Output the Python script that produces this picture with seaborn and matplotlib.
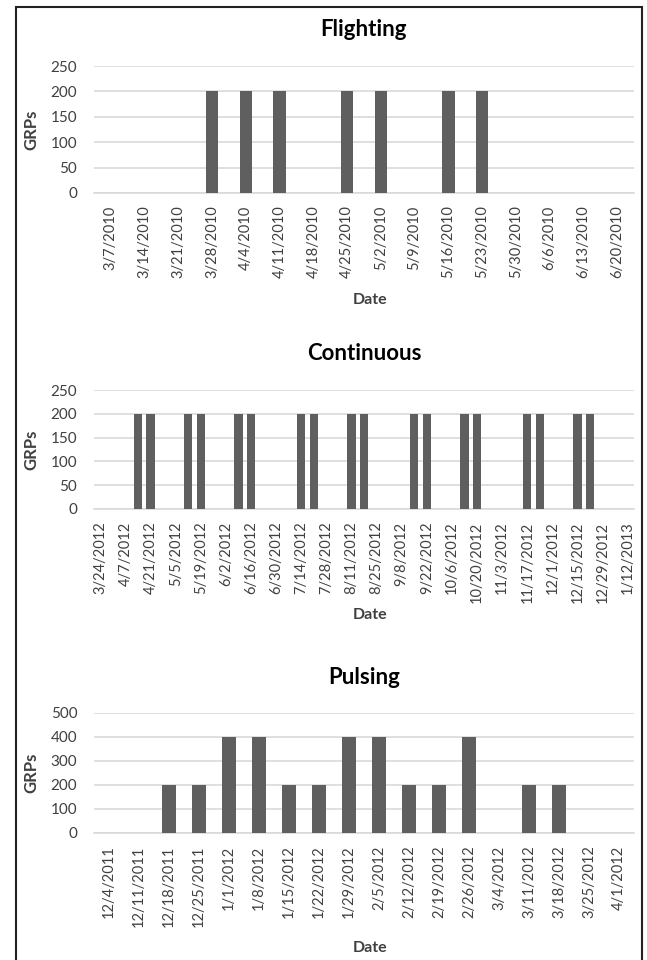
import pandas as pd
import matplotlib.pyplot as plt
import seaborn as sns
from matplotlib.patches import Rectangle

# 데이터
flight_dates = pd.date_range('2010-03-07', periods=16, freq='7D')
flight_grps = [0, 0, 0, 200, 200, 200, 0, 200, 200, 0, 200, 200, 0, 0, 0, 0]

cont_dates = pd.date_range('2012-03-24', periods=43, freq='7D')
cont_grps = [0, 0, 0, 200, 200, 0, 0, 200, 200, 0, 0, 200, 200, 0, 0,
             0, 200, 200, 0, 0, 200, 200, 0, 0, 0, 200, 200, 0, 0, 200,
             200, 0, 0, 0, 200, 200, 0, 0, 200, 200, 0, 0, 0]

pulse_dates = pd.date_range('2011-12-04', periods=18, freq='7D')
pulse_grps = [0, 0, 200, 200, 400, 400, 200, 200, 400, 400, 200, 200, 400, 0, 200, 200, 0, 0]

def fmt(d):
    return f"{d.month}/{d.day}/{d.year}"

sns.set_style('white')
plt.rcParams['font.family'] = ['Lato', 'DejaVu Sans']

W, H = 647, 960
fig = plt.figure(figsize=(W / 100, H / 100), dpi=100)

BAR = '#5f5f5f'
GRID = '#d9d9d9'
TXT = '#404040'

# (제목, 날짜, 값, 막대폭, 라벨 간격, y최대, y간격, 축 위/아래 px, 제목 y, Date y)
panels = [
    ('Flighting', flight_dates, flight_grps, 0.37, 1, 250, 50, 66, 193, 30, 300),
    ('Continuous', cont_dates, cont_grps, 0.66, 2, 250, 50, 390, 509, 353, 615),
    ('Pulsing', pulse_dates, pulse_grps, 0.44, 1, 500, 100, 713, 833, 677, 948),
]

left_px, right_px = 94, 634
for title, dates, vals, bw, step, ymax, ystep, top_px, bot_px, ty, dy in panels:
    ax = fig.add_axes([left_px / W, 1 - bot_px / H, (right_px - left_px) / W, (bot_px - top_px) / H])
    df = pd.DataFrame({'Date': [fmt(d) for d in dates], 'GRPs': vals})
    sns.barplot(data=df, x='Date', y='GRPs', color=BAR, width=bw, ax=ax,
                saturation=1, edgecolor='none', zorder=3)
    n = len(df)
    ax.set_xlim(-0.5, n - 0.5)
    ax.set_ylim(0, ymax)
    ax.set_yticks(range(0, ymax + 1, ystep))
    ax.yaxis.grid(True, color=GRID, linewidth=1.2, zorder=0)
    ax.set_axisbelow(True)
    for s in ['top', 'right', 'left']:
        ax.spines[s].set_visible(False)
    ax.spines['bottom'].set_color(GRID)
    ax.spines['bottom'].set_linewidth(1.2)
    pos = list(range(0, n, step))
    ax.set_xticks(pos)
    ax.set_xticklabels([df['Date'][i] for i in pos], rotation=90, fontsize=10.5, color=TXT)
    ax.set_xticks([i - 0.5 for i in range(n + 1)], minor=True)
    ax.tick_params(axis='x', which='major', length=0, pad=9)
    ax.tick_params(axis='x', which='minor', length=5, color=GRID, width=1.2)
    ax.tick_params(axis='y', length=0, labelsize=11, labelcolor=TXT, pad=12)
    ax.set_xlabel('')
    ax.set_ylabel('')
    fig.text((left_px + right_px) / 2 / W, 1 - ty / H, title, ha='center', va='center',
             fontsize=16, fontweight='bold', color='black')
    fig.text((left_px + right_px) / 2 / W + 0.01, 1 - dy / H, 'Date', ha='center', va='center',
             fontsize=11.5, fontweight='bold', color=TXT)
    fig.text(31 / W, 1 - (top_px + bot_px) / 2 / H, 'GRPs', ha='center', va='center',
             rotation=90, fontsize=12, fontweight='bold', color=TXT)

# 전체 테두리
fig.patches.append(Rectangle((16 / W, -0.01), (642 - 16) / W, (953 / H) + 0.01,
                             transform=fig.transFigure, fill=False, edgecolor='#222222',
                             linewidth=1.5))

fig.savefig('out.png', dpi=100)
